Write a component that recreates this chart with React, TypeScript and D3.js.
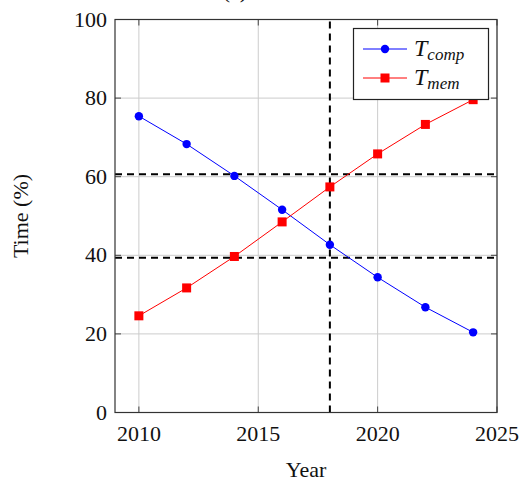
import React, { useEffect, useRef } from "react";
import * as d3 from "d3";

const years = [2010, 2012, 2014, 2016, 2018, 2020, 2022, 2024];
const tComp = [75.4, 68.3, 60.2, 51.6, 42.7, 34.4, 26.8, 20.4];
const tMem = [24.6, 31.7, 39.7, 48.5, 57.4, 65.8, 73.3, 79.6];
const xTicks = [2010, 2015, 2020, 2025];
const yTicks = [0, 20, 40, 60, 80, 100];
const hLines = [60.6, 39.4];
const vLines = [2018];

const W = 524;
const H = 483;
const margin = { left: 115, right: 27, top: 19.5, bottom: 70.5 };
const FONT = "'Liberation Serif', 'DejaVu Serif', serif";

function Chart() {
  const svgRef = useRef<SVGSVGElement>(null);

  useEffect(() => {
    const svg = d3.select(svgRef.current);
    svg.selectAll("*").remove();

    const x = d3.scaleLinear().domain([2009, 2025]).range([margin.left, W - margin.right]);
    const y = d3.scaleLinear().domain([0, 100]).range([H - margin.bottom, margin.top]);
    const [x0, x1] = x.range();
    const [y0, y1] = y.range();

    // grid
    const grid = svg.append("g").attr("stroke", "#cccccc").attr("stroke-width", 1);
    xTicks.forEach((t) => grid.append("line").attr("x1", x(t)).attr("x2", x(t)).attr("y1", y0).attr("y2", y1));
    yTicks.forEach((t) => grid.append("line").attr("x1", x0).attr("x2", x1).attr("y1", y(t)).attr("y2", y(t)));

    // ticks (inside, both sides)
    const ticks = svg.append("g").attr("stroke", "#444").attr("stroke-width", 1);
    xTicks.forEach((t) => {
      ticks.append("line").attr("x1", x(t)).attr("x2", x(t)).attr("y1", y0).attr("y2", y0 - 6);
      ticks.append("line").attr("x1", x(t)).attr("x2", x(t)).attr("y1", y1).attr("y2", y1 + 6);
    });
    yTicks.forEach((t) => {
      ticks.append("line").attr("x1", x0).attr("x2", x0 + 6).attr("y1", y(t)).attr("y2", y(t));
      ticks.append("line").attr("x1", x1).attr("x2", x1 - 6).attr("y1", y(t)).attr("y2", y(t));
    });

    // dashed reference lines
    const ref = svg.append("g").attr("stroke", "#000").attr("stroke-width", 2).attr("stroke-dasharray", "7,5");
    hLines.forEach((v) => ref.append("line").attr("x1", x0).attr("x2", x1).attr("y1", y(v)).attr("y2", y(v)));
    vLines.forEach((v) => ref.append("line").attr("x1", x(v)).attr("x2", x(v)).attr("y1", y0).attr("y2", y1));

    const line = d3
      .line<number>()
      .x((_, i) => x(years[i]))
      .y((d) => y(d));

    // T_comp
    svg.append("path").attr("d", line(tComp)).attr("fill", "none").attr("stroke", "#0000ff").attr("stroke-width", 1);
    svg
      .append("g")
      .selectAll("circle")
      .data(tComp)
      .join("circle")
      .attr("cx", (_, i) => x(years[i]))
      .attr("cy", (d) => y(d))
      .attr("r", 4.2)
      .attr("fill", "#0000ff");

    // T_mem
    svg.append("path").attr("d", line(tMem)).attr("fill", "none").attr("stroke", "#ff0000").attr("stroke-width", 1);
    svg
      .append("g")
      .selectAll("rect")
      .data(tMem)
      .join("rect")
      .attr("x", (_, i) => x(years[i]) - 4.5)
      .attr("y", (d) => y(d) - 4.5)
      .attr("width", 9)
      .attr("height", 9)
      .attr("fill", "#ff0000");

    // frame
    svg
      .append("rect")
      .attr("x", x0)
      .attr("y", y1)
      .attr("width", x1 - x0)
      .attr("height", y0 - y1)
      .attr("fill", "none")
      .attr("stroke", "#333")
      .attr("stroke-width", 1.2);

    // tick labels
    const labels = svg.append("g").style("font-family", FONT).style("font-size", "22px").attr("fill", "#111");
    xTicks.forEach((t) =>
      labels.append("text").attr("x", x(t)).attr("y", y0 + 28).attr("text-anchor", "middle").text(t)
    );
    yTicks.forEach((t) =>
      labels.append("text").attr("x", x0 - 8).attr("y", y(t) + 7).attr("text-anchor", "end").text(t)
    );

    // axis titles
    svg
      .append("text")
      .attr("x", (x0 + x1) / 2)
      .attr("y", 477)
      .attr("text-anchor", "middle")
      .style("font-family", FONT)
      .style("font-size", "22px")
      .attr("fill", "#111")
      .text("Year");
    svg
      .append("text")
      .attr("transform", `translate(28, ${(y0 + y1) / 2}) rotate(-90)`)
      .attr("text-anchor", "middle")
      .style("font-family", FONT)
      .style("font-size", "22px")
      .attr("fill", "#111")
      .text("Time (%)");

    // title, cut by the top edge as in the original
    svg
      .append("text")
      .attr("x", 235)
      .attr("y", -2)
      .attr("text-anchor", "middle")
      .style("font-family", FONT)
      .style("font-size", "22px")
      .attr("fill", "#111")
      .text("(a)");

    // legend
    const lg = svg.append("g");
    lg.append("rect")
      .attr("x", 353.5)
      .attr("y", 28.5)
      .attr("width", 135)
      .attr("height", 71)
      .attr("fill", "#fff")
      .attr("stroke", "#222")
      .attr("stroke-width", 1.2);
    const entries = [
      { sub: "comp", color: "#0000ff", shape: "circle", yy: 49 },
      { sub: "mem", color: "#ff0000", shape: "square", yy: 78 },
    ];
    entries.forEach((e) => {
      lg.append("line").attr("x1", 363).attr("x2", 407).attr("y1", e.yy).attr("y2", e.yy).attr("stroke", e.color);
      if (e.shape === "circle") lg.append("circle").attr("cx", 385).attr("cy", e.yy).attr("r", 4.2).attr("fill", e.color);
      else lg.append("rect").attr("x", 380.5).attr("y", e.yy - 4.5).attr("width", 9).attr("height", 9).attr("fill", e.color);
      const t = lg
        .append("text")
        .attr("x", 414)
        .attr("y", e.yy + 7)
        .style("font-family", FONT)
        .style("font-style", "italic")
        .style("font-size", "24px")
        .attr("fill", "#111");
      t.append("tspan").text("T");
      t.append("tspan").attr("dy", 4).style("font-size", "17px").text(e.sub);
    });
  }, []);

  return <svg ref={svgRef} width={W} height={H} style={{ display: "block" }} />;
}

export default function App() {
  return (
    <div style={{ position: "absolute", left: 0, top: 0 }}>
      <Chart />
    </div>
  );
}
